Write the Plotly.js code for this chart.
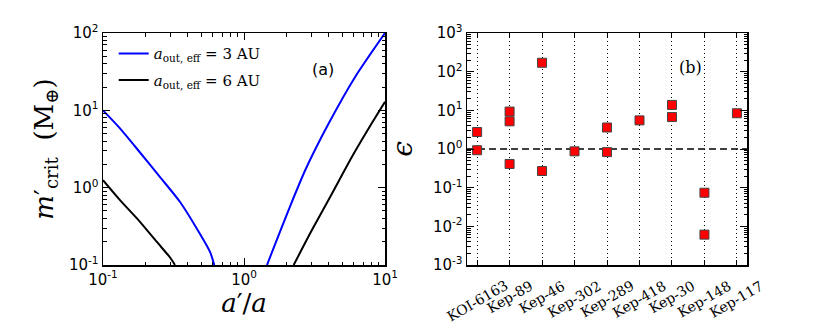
<!DOCTYPE html>
<html>
<head>
<meta charset="utf-8">
<script src="https://cdn.plot.ly/plotly-3.0.1.min.js"></script>
<style>
  html, body { margin: 0; padding: 0; background: #fff; }
  #plot { width: 830px; height: 332px; }
</style>
</head>
<body>
<div id="plot"></div>
<script>
/* panel (a): critical mass vs a'/a */
var blueLeftX = [0.1, 0.132, 0.183, 0.253, 0.351, 0.462, 0.574, 0.615];
var blueLeftY = [10, 5.85, 2.85, 1.38, 0.657, 0.297, 0.148, 0.1];
var blueRightX = [1.455, 1.67, 2.07, 2.72, 3.99, 6.15, 10];
var blueRightY = [0.1, 0.19, 0.513, 1.69, 6.79, 27.2, 100];

var blackLeftX = [0.1, 0.132, 0.183, 0.24, 0.298, 0.324];
var blackLeftY = [1.25, 0.69, 0.362, 0.2, 0.126, 0.1];
var blackRightX = [2.25, 3.03, 4.21, 5.83, 8.09, 10];
var blackRightY = [0.1, 0.283, 0.843, 2.51, 6.9, 12.9];

/* panel (b): epsilon per system */
var systems = ["KOI-6163", "Kep-89", "Kep-46", "Kep-302", "Kep-289",
               "Kep-418", "Kep-30", "Kep-148", "Kep-117"];
var epsSystem = ["KOI-6163", "KOI-6163", "Kep-89", "Kep-89", "Kep-89",
                 "Kep-46", "Kep-46", "Kep-302", "Kep-289", "Kep-289",
                 "Kep-418", "Kep-30", "Kep-30", "Kep-148", "Kep-148", "Kep-117"];
var epsValue = [2.75, 0.93, 9.3, 5.2, 0.41,
                170, 0.27, 0.87, 3.6, 0.83,
                5.5, 13.8, 6.7, 0.074, 0.0061, 8.4];
var refLevel = 1;

var serif = "DejaVu Serif, serif";
var sans = "DejaVu Sans, sans-serif";

function lineTrace(x, y, color, name, show) {
  return {
    x: x, y: y, xaxis: "x", yaxis: "y",
    type: "scatter", mode: "lines",
    line: { color: color, width: 2, shape: "spline", smoothing: 0.7 },
    name: name, legendgroup: name, showlegend: show
  };
}

var name3 = "<i>a</i><sub>out, eff</sub> = 3 AU";
var name6 = "<i>a</i><sub>out, eff</sub> = 6 AU";

var data = [
  lineTrace(blueLeftX, blueLeftY, "#0000ff", name3, true),
  lineTrace(blueRightX, blueRightY, "#0000ff", name3, false),
  lineTrace(blackLeftX, blackLeftY, "#000000", name6, true),
  lineTrace(blackRightX, blackRightY, "#000000", name6, false),
  {
    x: epsSystem, y: epsValue, xaxis: "x2", yaxis: "y2",
    type: "scatter", mode: "markers", showlegend: false,
    marker: { symbol: "square", size: 9, color: "#ff0000",
              line: { color: "#444", width: 1 } }
  }
];

// decade labels and minor ticks (2..9 in each decade)
function decadeTicks(lo, hi) {
  var v = [], t = [], m = [];
  for (var e = lo; e <= hi; e++) {
    v.push(Math.pow(10, e));
    t.push("10<sup>" + e + "</sup>");
    if (e < hi) for (var d = 2; d <= 9; d++) m.push(d * Math.pow(10, e));
  }
  return { v: v, t: t, m: m };
}
var ta = decadeTicks(-1, 1), tya = decadeTicks(-1, 2), tyb = decadeTicks(-3, 3);

function logAxis(ticks, extra) {
  var o = {
    type: "log", showline: true, linecolor: "#000", linewidth: 1.5, mirror: "ticks",
    ticks: "inside", ticklen: 7, tickwidth: 1, tickcolor: "#000",
    showgrid: false, zeroline: false,
    tickmode: "array", tickvals: ticks.v, ticktext: ticks.t,
    tickfont: { family: sans, size: 15, color: "#000" },
    minor: { ticks: "inside", ticklen: 3.5, tickcolor: "#000", showgrid: false,
             tickmode: "array", tickvals: ticks.m }
  };
  for (var k in extra) o[k] = extra[k];
  return o;
}

// rotated system names, centred under each category like matplotlib's ha='center'
var nameLabels = systems.map(function (s) {
  return {
    text: s, xref: "x2", yref: "paper", x: s, y: 1 - 275 / 332,
    xanchor: "center", yanchor: "top", textangle: -30, showarrow: false,
    font: { family: serif, size: 14, color: "#000" }
  };
});

var layout = {
  width: 830, height: 332,
  margin: { l: 0, r: 0, t: 0, b: 0 },
  paper_bgcolor: "#fff", plot_bgcolor: "#fff",
  xaxis: logAxis(ta, {
    domain: [0.1241, 0.4639], range: [-1, 1], anchor: "y",
    title: { text: "<i>a</i>′/<i>a</i>", font: { family: serif, size: 26, color: "#000" }, standoff: 6 }
  }),
  yaxis: logAxis(tya, {
    domain: [0.2018, 0.9006], range: [-1, 2], anchor: "x",
    title: { text: "<i>m</i>′<sub>crit</sub>  (M<sub>⊕</sub>)", font: { family: serif, size: 26, color: "#000" }, standoff: 8 }
  }),
  xaxis2: {
    domain: [0.5627, 0.9], anchor: "y2", type: "category",
    categoryorder: "array", categoryarray: systems,
    range: [-0.31, 8.31],
    showline: true, linecolor: "#000", linewidth: 1.5, mirror: "ticks",
    ticks: "inside", ticklen: 5, tickcolor: "#000", showticklabels: false,
    showgrid: true, gridcolor: "#000", gridwidth: 1, griddash: "1px,3px",
    zeroline: false
  },
  yaxis2: logAxis(tyb, {
    domain: [0.2018, 0.9006], range: [-3, 3], anchor: "x2",
    title: { text: "<i>ϵ</i>", font: { family: serif, size: 28, color: "#000" }, standoff: 12 }
  }),
  showlegend: true,
  legend: {
    x: 0.137, y: 0.888, xanchor: "left", yanchor: "top",
    bgcolor: "rgba(0,0,0,0)", borderwidth: 0,
    font: { family: serif, size: 15, color: "#000" },
    tracegroupgap: 4, itemwidth: 30
  },
  shapes: [{
    type: "line", xref: "x2 domain", yref: "y2",
    x0: 0, x1: 1, y0: refLevel, y1: refLevel,
    line: { color: "#000", width: 1.3, dash: "7px,4px" }, layer: "below"
  }],
  annotations: [
    { text: "(a)", xref: "paper", yref: "paper", x: 323 / 830, y: 1 - 70 / 332,
      xanchor: "center", yanchor: "middle",
      showarrow: false, font: { family: sans, size: 16, color: "#000" } },
    { text: "(b)", xref: "paper", yref: "paper", x: 690 / 830, y: 1 - 67 / 332,
      xanchor: "center", yanchor: "middle",
      showarrow: false, font: { family: serif, size: 16, color: "#000" } }
  ].concat(nameLabels)
};

Plotly.newPlot("plot", data, layout, { displayModeBar: false, staticPlot: true });
</script>
</body>
</html>
